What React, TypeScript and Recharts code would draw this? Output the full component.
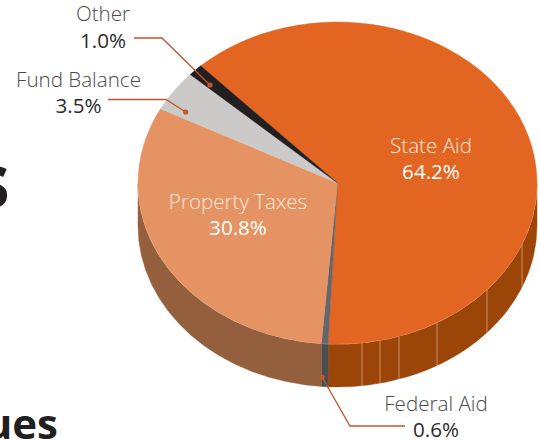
import React from 'react';
import { PieChart, Pie } from 'recharts';

const sliceNames = ['State Aid', 'Federal Aid', 'Property Taxes', 'Fund Balance', 'Other'];
const sliceValues = [64.2, 0.6, 30.8, 3.5, 1.0];
const topColors = ['#E26522', '#63666A', '#E59362', '#CBCAC9', '#231F20'];
const wallColors = ['#9C4509', '#4A4D52', '#945F3C', '#8E8D8C', '#161414'];

const tableData = sliceNames.map((name, i) => ({ name, value: sliceValues[i], fill: topColors[i], wall: wallColors[i] }));

const W = 540, H = 440;
const CX = 337.5, CY = 183, RX = 199.5, SQUASH = 0.807, DEPTH = 43;
const START = 133.3;
const SKEW = 8.2, SKEW2 = 1.5;
const FONT = '"Open Sans", sans-serif';
const seamXs = [362, 380, 399, 437, 487, 522];

const rad = (d: number) => (d * Math.PI) / 180;
// view projection: the tilted pie compresses its angles a little
const project = (angle: number) => {
  const r = START - angle;
  return START - (r + SKEW * Math.sin(rad(r)) + SKEW2 * Math.sin(rad(2 * r)));
};
const rim = (t: number, rho = 1, dy = 0) => [CX + RX * rho * Math.cos(rad(t)), CY - RX * SQUASH * rho * Math.sin(rad(t)) + dy];

const TopFace = (p: any) => {
  const a = project(p.startAngle), b = project(p.endAngle);
  const [x1, y1] = rim(a), [x2, y2] = rim(b);
  const large = Math.abs(a - b) > 180 ? 1 : 0;
  return <path d={`M${CX},${CY}L${x1},${y1}A${RX},${RX * SQUASH} 0 ${large} 1 ${x2},${y2}Z`} fill={p.fill} stroke={p.fill} strokeWidth={0.4} />;
};

const WallFace = (p: any) => {
  const a = project(p.startAngle), b = project(p.endAngle);
  const parts: [number, number][] = [];
  for (const k of [0, -360]) {
    const h = Math.min(a, 0 + k), l = Math.max(b, -180 + k);
    if (h > l) parts.push([h, l]);
  }
  const ry = RX * SQUASH;
  return (
    <g>
      {parts.map(([h, l], i) => {
        const [x1, y1] = rim(h), [x2, y2] = rim(l);
        const large = Math.abs(h - l) > 180 ? 1 : 0;
        return (
          <g key={i}>
            <path
              d={`M${x1},${y1}A${RX},${ry} 0 ${large} 1 ${x2},${y2}L${x2},${y2 + DEPTH}A${RX},${ry} 0 ${large} 0 ${x1},${y1 + DEPTH}Z`}
              fill={p.wall}
              stroke={p.wall}
              strokeWidth={0.4}
            />
            <path d={`M${x1},${y1}A${RX},${ry} 0 ${large} 1 ${x2},${y2}`} fill="none" stroke="#F3D9C8" strokeWidth={0.8} />
          </g>
        );
      })}
      {p.name === sliceNames[0] &&
        seamXs.map((x) => {
          const dx = (x - CX) / RX;
          const y = CY + ry * Math.sqrt(1 - dx * dx);
          return <line key={x} x1={x} x2={x} y1={y} y2={y + DEPTH} stroke="#D9A27E" strokeWidth={0.8} />;
        })}
    </g>
  );
};

type Note = { nx: number; ny: number; vy: number; line?: number[][]; light?: boolean };
const notes: Note[] = [
  { nx: 431, ny: 153, vy: 179, light: true },
  { nx: 436, ny: 411, vy: 437, line: [[405, 426], [350, 426], [322, 377]] },
  { nx: 238, ny: 209, vy: 235, light: true },
  { nx: 78.5, ny: 87, vy: 113, line: [[108, 99.5], [166, 99.5], [185.7, 112]] },
  { nx: 103, ny: 21, vy: 47.5, line: [[134, 38], [162, 38], [210, 85]] },
];

const SliceLabel = (p: any) => {
  const n = notes[p.index];
  const name = sliceNames[p.index];
  const value = sliceValues[p.index];
  const nameFill = n.light ? '#FBE9DE' : '#4A4A4A';
  const valueFill = n.light ? '#FFFFFF' : '#2B2B2B';
  const end = n.line && n.line[n.line.length - 1];
  return (
    <g>
      {n.line && <polyline points={n.line.map((q) => q.join(',')).join(' ')} fill="none" stroke="#C0562A" strokeWidth={1.3} />}
      {end && <circle cx={end[0]} cy={end[1]} r={2.6} fill="#C0562A" />}
      <text x={n.nx} y={n.ny} textAnchor="middle" fontFamily={FONT} fontWeight={300} fontSize={20.6} fill={nameFill}>{name}</text>
      <text x={n.nx} y={n.vy} textAnchor="middle" fontFamily={FONT} fontWeight={400} fontSize={20.6} fill={valueFill}>{value.toFixed(1)}%</text>
    </g>
  );
};

export default function App() {
  return (
    <div style={{ position: 'absolute', left: 0, top: 0, width: W, height: H, overflow: 'hidden', background: '#fff' }}>
      <PieChart width={W} height={H} margin={{ top: 0, right: 0, bottom: 0, left: 0 }}>
        <Pie
          data={tableData}
          dataKey="value"
          nameKey="name"
          cx={CX}
          cy={CY}
          outerRadius={RX}
          startAngle={START}
          endAngle={START - 360}
          paddingAngle={0}
          stroke="none"
          shape={WallFace}
          label={false}
          labelLine={false}
          isAnimationActive={false}
        />
        <Pie
          data={tableData}
          dataKey="value"
          nameKey="name"
          cx={CX}
          cy={CY}
          outerRadius={RX}
          startAngle={START}
          endAngle={START - 360}
          paddingAngle={0}
          stroke="none"
          shape={TopFace}
          label={SliceLabel}
          labelLine={false}
          isAnimationActive={false}
        />
        <text x={10} y={208} textAnchor="end" fontFamily={FONT} fontWeight={700} fontSize={76} fill="#231F20">s</text>
        <text x={58} y={439} textAnchor="end" fontFamily={FONT} fontWeight={700} fontSize={42} fill="#231F20">ues</text>
      </PieChart>
    </div>
  );
}
